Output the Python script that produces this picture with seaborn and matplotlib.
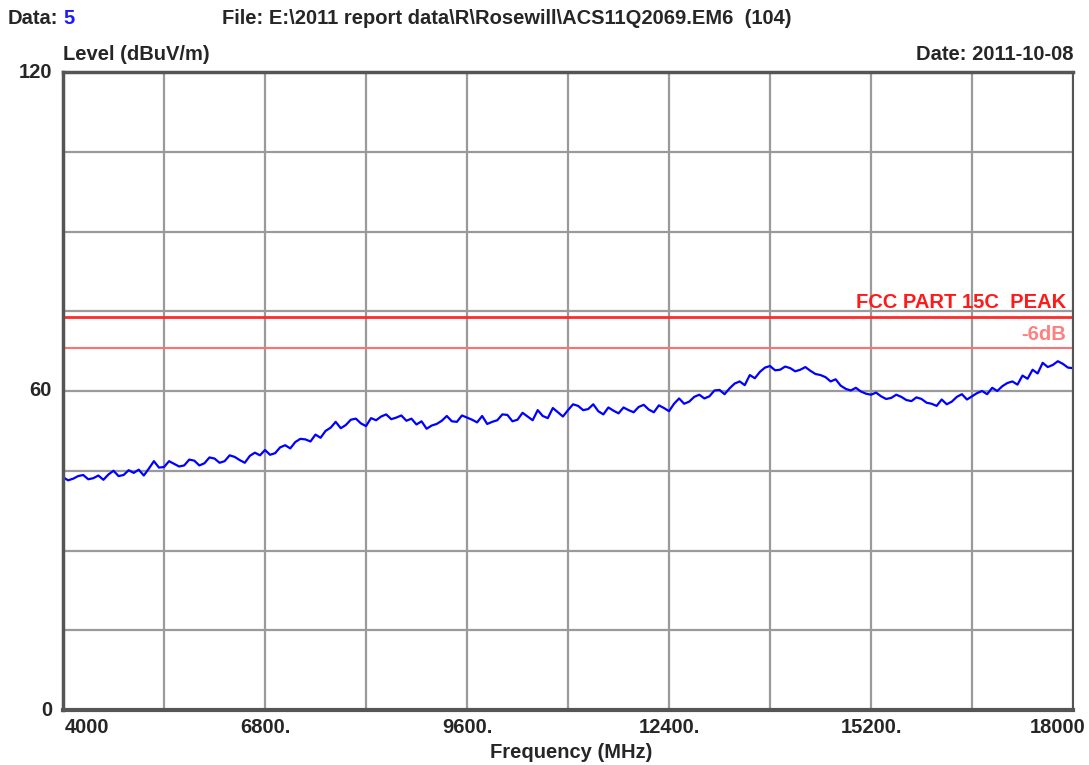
import matplotlib
matplotlib.use("Agg")
import matplotlib.pyplot as plt
import matplotlib.transforms as mtransforms
import seaborn as sns
import pandas as pd
import numpy as np

# ---- data ----
freq_mhz = [4000 + 70 * i for i in range(201)]
level_dbuv = [
    43.8, 43.2, 43.5, 44.0, 44.2, 43.4, 43.6, 44.1, 43.3, 44.3,
    45.0, 44.0, 44.2, 45.1, 44.6, 45.2, 44.1, 45.4, 46.8, 45.6,
    45.7, 46.8, 46.3, 45.8, 46.0, 47.1, 46.9, 46.0, 46.4, 47.5,
    47.3, 46.5, 46.8, 47.9, 47.6, 47.0, 46.5, 47.8, 48.4, 47.9,
    48.9, 48.0, 48.3, 49.4, 49.8, 49.2, 50.4, 51.0, 50.9, 50.5,
    51.8, 51.2, 52.5, 53.1, 54.2, 53.0, 53.6, 54.6, 54.8, 53.9,
    53.4, 54.9, 54.5, 55.2, 55.6, 54.7, 55.0, 55.4, 54.4, 54.8,
    53.7, 54.3, 52.9, 53.5, 53.8, 54.4, 55.3, 54.3, 54.2, 55.4,
    55.0, 54.6, 54.1, 55.3, 53.8, 54.2, 54.5, 55.6, 55.5, 54.3,
    54.6, 55.9, 55.2, 54.5, 56.4, 55.3, 54.9, 56.8, 56.0, 55.2,
    56.4, 57.5, 57.2, 56.4, 56.6, 57.5, 56.2, 55.6, 56.9, 56.3,
    55.8, 56.9, 56.4, 56.0, 57.0, 57.4, 56.5, 56.0, 57.3, 56.8,
    56.2, 57.6, 58.6, 57.6, 58.0, 58.9, 59.3, 58.6, 59.0, 60.1,
    60.2, 59.4, 60.5, 61.4, 61.8, 61.1, 63.0, 62.4, 63.6, 64.4,
    64.7, 63.9, 64.0, 64.6, 64.3, 63.7, 64.0, 64.5, 63.8, 63.2,
    63.0, 62.6, 61.8, 62.2, 61.0, 60.4, 60.1, 60.6, 59.9, 59.5,
    59.3, 59.7, 59.0, 58.5, 58.7, 59.3, 58.9, 58.3, 58.1, 58.8,
    58.5, 57.8, 57.6, 57.2, 58.4, 57.5, 58.0, 58.9, 59.4, 58.4,
    59.0, 59.6, 60.0, 59.4, 60.6, 60.0, 60.9, 61.5, 61.8, 61.2,
    62.9, 62.3, 64.0, 63.3, 65.3, 64.5, 64.9, 65.6, 65.1, 64.4,
    64.3,
]
limit_peak = 74
limit_margin = 68
x_ticks = [4000, 6800, 9600, 12400, 15200, 18000]
x_tick_labels = ["4000", "6800.", "9600.", "12400.", "15200.", "18000"]
y_ticks = [0, 60, 120]
y_tick_labels = ["0", "60", "120"]

df = pd.DataFrame({"freq": freq_mhz, "level": level_dbuv})

sns.set_style("white")
plt.rcParams["font.family"] = ["Liberation Sans", "DejaVu Sans"]
plt.rcParams["font.weight"] = "bold"
FS = 14.5

fig = plt.figure(figsize=(10.89, 7.65), dpi=100)
ax = fig.add_axes([63 / 1089, 1 - 710 / 765, (1073 - 63) / 1089, (710 - 72) / 765])

ax.set_xlim(4000, 18000)
ax.set_ylim(0, 120)

# grid
ax.set_xticks(np.arange(4000, 18001, 1400))
ax.set_yticks(np.arange(0, 121, 15))
ax.grid(True, color="#9a9a9a", linewidth=1.6)
ax.set_axisbelow(True)
ax.tick_params(axis="both", length=0, labelbottom=False, labelleft=False)

for side in ["left", "bottom", "top", "right"]:
    ax.spines[side].set_color("#555555")
ax.spines["left"].set_linewidth(2.5)
ax.spines["bottom"].set_linewidth(3)
ax.spines["top"].set_linewidth(2.5)
ax.spines["right"].set_linewidth(1.5)

# limits
ax.axhline(limit_peak, color="#ff2a2a", linewidth=2)
ax.axhline(limit_margin, color="#ff7070", linewidth=1.5)
ax.text(17900, limit_peak + 0.9, "FCC PART 15C  PEAK", color="#ff1a1a",
        ha="right", va="bottom", fontsize=FS, fontweight="bold")
ax.text(17900, limit_margin + 0.9, "-6dB", color="#ff8080",
        ha="right", va="bottom", fontsize=FS, fontweight="bold")

# trace
sns.lineplot(data=df, x="freq", y="level", ax=ax, color="#0000ff", linewidth=1.6)
ax.set_xlabel("")
ax.set_ylabel("")

# tick labels
tr_x = mtransforms.blended_transform_factory(ax.transData, ax.transAxes)
for v, lab in zip(x_ticks, x_tick_labels):
    ha = "center"
    dx = 0
    if v == x_ticks[0]:
        ha = "left"
        dx = 20
    elif v == x_ticks[-1]:
        ha = "right"
        dx = 170
    ax.text(v + dx, -0.012, lab, transform=tr_x, ha=ha, va="top",
            fontsize=FS, fontweight="bold")
tr_y = mtransforms.blended_transform_factory(ax.transAxes, ax.transData)
for v, lab in zip(y_ticks, y_tick_labels):
    ax.text(-0.011, v, lab, transform=tr_y, ha="right", va="center",
            fontsize=FS, fontweight="bold")

fig.text(0.5 * (63 + 1073) / 1089 + 0.003, 1 - 752 / 765, "Frequency (MHz)", ha="center",
         va="center", fontsize=FS, fontweight="bold")
fig.text(63 / 1089, 1 - 55 / 765, "Level (dBuV/m)", ha="left", va="center",
         fontsize=FS, fontweight="bold")
fig.text(1073 / 1089, 1 - 55 / 765, "Date: 2011-10-08", ha="right", va="center",
         fontsize=FS, fontweight="bold")

# header line: "Data: 5" with the value in blue
t = fig.text(8 / 1089, 1 - 18 / 765, "Data:", ha="left", va="center",
             fontsize=FS, fontweight="bold")
fig.canvas.draw()
bb = t.get_window_extent()
fig.text((bb.x1 + 5) / 1089, 1 - 18 / 765, "5", ha="left", va="center",
         color="#1a1aff", fontsize=FS, fontweight="bold")
fig.text(222 / 1089, 1 - 18 / 765,
         "File: E:\\2011 report data\\R\\Rosewill\\ACS11Q2069.EM6  (104)",
         ha="left", va="center", fontsize=FS, fontweight="bold")

fig.savefig("out.png", dpi=100)
